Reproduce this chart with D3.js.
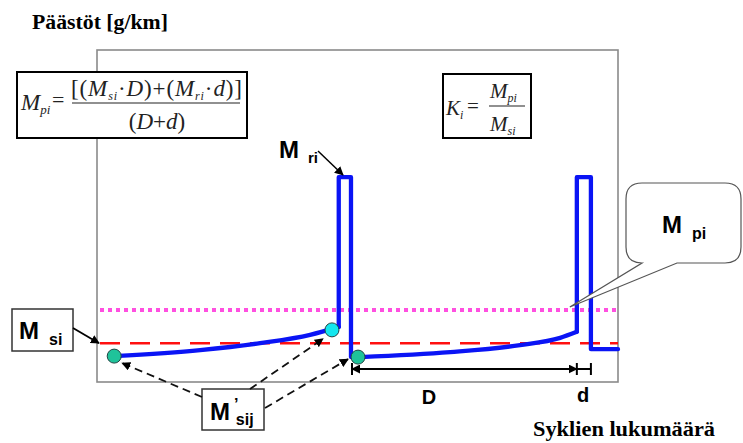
<!DOCTYPE html>
<html>
<head>
<meta charset="utf-8">
<script src="https://cdn.jsdelivr.net/npm/d3@7"></script>
<style>
  html, body { margin: 0; padding: 0; background: #fff; }
  svg { display: block; }
</style>
</head>
<body>
<div id="chart"></div>
<script>
// Emission levels (arbitrary units 0..100)
var baseLevel = 11.7;   // M_si
var meanLevel = 21.7;   // M_pi
var peakLevel = 61.7;   // M_ri

// Emission drift between regenerations (cycles, emission)
var drift1X = [3.3, 19.8, 31.3, 40.9, 46.4];
var drift1Y = [7.8, 9.6, 11.7, 14.2, 16.6];
var drift2X = [50.5, 67.8, 81.2, 88.9, 92.1];
var drift2Y = [7.5, 9.0, 11.1, 13.3, 15.1];

// Regeneration spikes
var spike1X = [46.4, 46.4, 48.75, 48.75, 50.5];
var spike1Y = [16.6, peakLevel, peakLevel, 7.5, 7.5];
var spike2X = [92.1, 92.1, 94.8, 94.8, 100];
var spike2Y = [15.1, peakLevel, peakLevel, 9.9, 9.9];

// Measured points M'sij
var pointX = [3.3, 45.1, 50.1];
var pointY = [7.8, 15.7, 7.5];
var pointFill = ['#1fc39a', '#14e6ee', '#1fc39a'];

var SERIF = '"Liberation Serif", "Times New Roman", serif';
var SANS = '"Liberation Sans", Arial, sans-serif';

var W = 743, H = 443;
var plot = { left: 97, right: 618, top: 50, bottom: 382 };

var svg = d3.select('#chart').append('svg')
  .attr('width', W).attr('height', H);

var defs = svg.append('defs');
defs.append('marker')
  .attr('id', 'arr')
  .attr('viewBox', '0 0 10 10')
  .attr('refX', 9).attr('refY', 5)
  .attr('markerWidth', 9).attr('markerHeight', 9)
  .attr('markerUnits', 'userSpaceOnUse')
  .attr('orient', 'auto-start-reverse')
  .append('path').attr('d', 'M0,0 L10,5 L0,10 Z').attr('fill', '#000');

var x = d3.scaleLinear().domain([0, 100]).range([plot.left, plot.right]);
var y = d3.scaleLinear().domain([0, 100]).range([plot.bottom, plot.top]);

function label(sel, family) {
  return sel.style('font-family', family).attr('font-weight', 'bold');
}

// plot frame
svg.append('rect')
  .attr('x', plot.left).attr('y', plot.top)
  .attr('width', plot.right - plot.left).attr('height', plot.bottom - plot.top)
  .attr('fill', 'none').attr('stroke', '#8a8a8a').attr('stroke-width', 1.6);

// reference levels
svg.append('line')
  .attr('x1', x(0) + 3).attr('x2', x(100))
  .attr('y1', y(meanLevel)).attr('y2', y(meanLevel))
  .attr('stroke', '#ff4fe0').attr('stroke-width', 4)
  .attr('stroke-dasharray', '4,4');

svg.append('line')
  .attr('x1', x(0) + 3).attr('x2', x(100))
  .attr('y1', y(baseLevel)).attr('y2', y(baseLevel))
  .attr('stroke', '#ff1010').attr('stroke-width', 2.5)
  .attr('stroke-dasharray', '20,10');

// emission trace
var smooth = d3.line().x(function(d) { return x(d[0]); }).y(function(d) { return y(d[1]); })
  .curve(d3.curveMonotoneX);
var straight = d3.line().x(function(d) { return x(d[0]); }).y(function(d) { return y(d[1]); });

function pairs(xs, ys) { return xs.map(function(v, i) { return [v, ys[i]]; }); }

[[drift1X, drift1Y, smooth], [spike1X, spike1Y, straight],
 [drift2X, drift2Y, smooth], [spike2X, spike2Y, straight]].forEach(function(s) {
  svg.append('path')
    .attr('d', s[2](pairs(s[0], s[1])))
    .attr('fill', 'none')
    .attr('stroke', '#0a14f5')
    .attr('stroke-width', 4.3)
    .attr('stroke-linejoin', 'round')
    .attr('stroke-linecap', 'round');
});

svg.selectAll('circle.pt')
  .data(pairs(pointX, pointY))
  .enter().append('circle')
  .attr('class', 'pt')
  .attr('cx', function(d) { return x(d[0]); })
  .attr('cy', function(d) { return y(d[1]); })
  .attr('r', 7)
  .attr('fill', function(d, i) { return pointFill[i]; })
  .attr('stroke', '#224444').attr('stroke-width', 1);

// D / d dimension
var dimY = 369;
function dimLine(x1, x2, arrows) {
  var l = svg.append('line').attr('x1', x1).attr('x2', x2).attr('y1', dimY).attr('y2', dimY)
    .attr('stroke', '#000').attr('stroke-width', 2);
  if (arrows) l.attr('marker-end', 'url(#arr)').attr('marker-start', 'url(#arr)');
}
function tick(xp) {
  svg.append('line').attr('x1', xp).attr('x2', xp).attr('y1', dimY - 6).attr('y2', dimY + 6)
    .attr('stroke', '#000').attr('stroke-width', 2);
}
dimLine(x(spike1X[2]) + 1, x(spike2X[0]), true);
dimLine(x(spike2X[0]), x(spike2X[2]), false);
tick(x(spike1X[2]) + 1); tick(x(spike2X[0])); tick(x(spike2X[2]));

label(svg.append('text'), SANS).attr('x', 429).attr('y', 404)
  .attr('text-anchor', 'middle').attr('font-size', 20).text('D');
label(svg.append('text'), SANS).attr('x', 583).attr('y', 402)
  .attr('text-anchor', 'middle').attr('font-size', 20).text('d');

// axis titles
label(svg.append('text'), SERIF).attr('x', 32).attr('y', 29)
  .attr('font-size', 21).attr('textLength', 136).attr('lengthAdjust', 'spacingAndGlyphs')
  .text('Päästöt [g/km]');
label(svg.append('text'), SERIF).attr('x', 533).attr('y', 436)
  .attr('font-size', 21).attr('textLength', 182).attr('lengthAdjust', 'spacingAndGlyphs')
  .text('Syklien lukumäärä');

// formula box Mpi
svg.append('rect').attr('x', 17).attr('y', 72).attr('width', 230).attr('height', 66)
  .attr('fill', '#fff').attr('stroke', '#000').attr('stroke-width', 2);
var f1 = svg.append('g').style('font-family', SERIF).attr('font-style', 'italic').attr('fill', '#222');
var t = f1.append('text').attr('x', 21).attr('y', 110).attr('font-size', 23);
t.append('tspan').text('M');
t.append('tspan').attr('font-size', 13).attr('dy', 4).text('pi');
f1.append('text').attr('x', 52).attr('y', 107).attr('font-size', 22).attr('font-style', 'normal').text('=');
var num = f1.append('text').attr('x', 71).attr('y', 96).attr('font-size', 23)
  .attr('textLength', 171).attr('lengthAdjust', 'spacing');
num.append('tspan').attr('font-style', 'normal').text('[(');
num.append('tspan').text('M');
num.append('tspan').attr('font-size', 12).attr('dy', 4).text('si');
num.append('tspan').attr('dy', -4).attr('font-style', 'normal').text('·');
num.append('tspan').text('D');
num.append('tspan').attr('font-style', 'normal').text(')+(');
num.append('tspan').text('M');
num.append('tspan').attr('font-size', 12).attr('dy', 4).text('ri');
num.append('tspan').attr('dy', -4).attr('font-style', 'normal').text('·');
num.append('tspan').text('d');
num.append('tspan').attr('font-style', 'normal').text(')]');
f1.append('line').attr('x1', 72).attr('x2', 240).attr('y1', 103).attr('y2', 103)
  .attr('stroke', '#222').attr('stroke-width', 1.2);
var den = f1.append('text').attr('x', 157).attr('y', 129).attr('font-size', 23).attr('text-anchor', 'middle');
den.append('tspan').attr('font-style', 'normal').text('(');
den.append('tspan').text('D');
den.append('tspan').attr('font-style', 'normal').text('+');
den.append('tspan').text('d');
den.append('tspan').attr('font-style', 'normal').text(')');

// formula box Ki
svg.append('rect').attr('x', 443).attr('y', 74).attr('width', 88).attr('height', 64)
  .attr('fill', '#fff').attr('stroke', '#000').attr('stroke-width', 2);
var f2 = svg.append('g').style('font-family', SERIF).attr('font-style', 'italic').attr('fill', '#222');
var k = f2.append('text').attr('x', 446).attr('y', 115).attr('font-size', 21);
k.append('tspan').text('K');
k.append('tspan').attr('font-size', 12).attr('dy', 4).text('i');
f2.append('text').attr('x', 467).attr('y', 113).attr('font-size', 21).attr('font-style', 'normal').text('=');
var kn = f2.append('text').attr('x', 490).attr('y', 98).attr('font-size', 21);
kn.append('tspan').text('M');
kn.append('tspan').attr('font-size', 12).attr('dy', 4).text('pi');
f2.append('line').attr('x1', 489).attr('x2', 525).attr('y1', 106).attr('y2', 106)
  .attr('stroke', '#222').attr('stroke-width', 1.2);
var kd = f2.append('text').attr('x', 490).attr('y', 131).attr('font-size', 21);
kd.append('tspan').text('M');
kd.append('tspan').attr('font-size', 12).attr('dy', 4).text('si');

// M_ri label with arrow
var ri = label(svg.append('text'), SANS).attr('x', 279).attr('y', 158).attr('font-size', 24);
ri.append('tspan').text('M');
ri.append('tspan').attr('font-size', 15).attr('dx', 9).attr('dy', 5).text('ri');
svg.append('line').attr('x1', 318).attr('y1', 151).attr('x2', 343).attr('y2', 175)
  .attr('stroke', '#000').attr('stroke-width', 1.5).attr('marker-end', 'url(#arr)');

// M_pi callout
var cx0 = 626, cx1 = 741, cy0 = 183, cy1 = 263, r = 16;
var tipX = x(spike2X[0]) - 7, tipY = y(meanLevel) - 3;
var callout = 'M' + (cx0 + r) + ',' + cy0 +
  ' L' + (cx1 - r) + ',' + cy0 + ' Q' + cx1 + ',' + cy0 + ' ' + cx1 + ',' + (cy0 + r) +
  ' L' + cx1 + ',' + (cy1 - r) + ' Q' + cx1 + ',' + cy1 + ' ' + (cx1 - r) + ',' + cy1 +
  ' L677,' + cy1 + ' L' + tipX + ',' + tipY + ' L642,' + cy1 +
  ' L' + (cx0 + r) + ',' + cy1 + ' Q' + cx0 + ',' + cy1 + ' ' + cx0 + ',' + (cy1 - r) +
  ' L' + cx0 + ',' + (cy0 + r) + ' Q' + cx0 + ',' + cy0 + ' ' + (cx0 + r) + ',' + cy0 + ' Z';
svg.append('path').attr('d', callout).attr('fill', '#fff')
  .attr('stroke', '#555').attr('stroke-width', 1.2);
var pi = label(svg.append('text'), SANS).attr('x', 662).attr('y', 233).attr('font-size', 24);
pi.append('tspan').text('M');
pi.append('tspan').attr('font-size', 16).attr('dx', 10).attr('dy', 6).text('pi');

// M_si label
svg.append('rect').attr('x', 12).attr('y', 309).attr('width', 61).attr('height', 42)
  .attr('fill', '#fff').attr('stroke', '#333').attr('stroke-width', 1.5);
var si = label(svg.append('text'), SANS).attr('x', 19).attr('y', 339).attr('font-size', 24);
si.append('tspan').text('M');
si.append('tspan').attr('font-size', 16).attr('dx', 10).attr('dy', 6).text('si');
svg.append('line').attr('x1', 73).attr('y1', 328).attr('x2', x(0) + 2).attr('y2', y(baseLevel))
  .attr('stroke', '#000').attr('stroke-width', 1.8).attr('marker-end', 'url(#arr)');

// M'sij label and dashed arrows
svg.append('rect').attr('x', 202).attr('y', 389).attr('width', 62).attr('height', 41)
  .attr('fill', '#fff').attr('stroke', '#333').attr('stroke-width', 1.5);
var sij = label(svg.append('text'), SANS).attr('x', 210).attr('y', 420).attr('font-size', 24);
sij.append('tspan').text('M');
sij.append('tspan').attr('font-size', 16).attr('dx', 4).attr('dy', -10).text('’');
sij.append('tspan').attr('font-size', 16).attr('dx', -2).attr('dy', 15).text('sij');

var from = [[202, 397], [250, 389], [265, 408]];
var off = [[8, 7], [-9, 9], [-10, 2]];
from.forEach(function(f, i) {
  svg.append('line')
    .attr('x1', f[0]).attr('y1', f[1])
    .attr('x2', x(pointX[i]) + off[i][0]).attr('y2', y(pointY[i]) + off[i][1])
    .attr('stroke', '#111').attr('stroke-width', 1.8)
    .attr('stroke-dasharray', '8,5')
    .attr('marker-end', 'url(#arr)');
});
</script>
</body>
</html>
